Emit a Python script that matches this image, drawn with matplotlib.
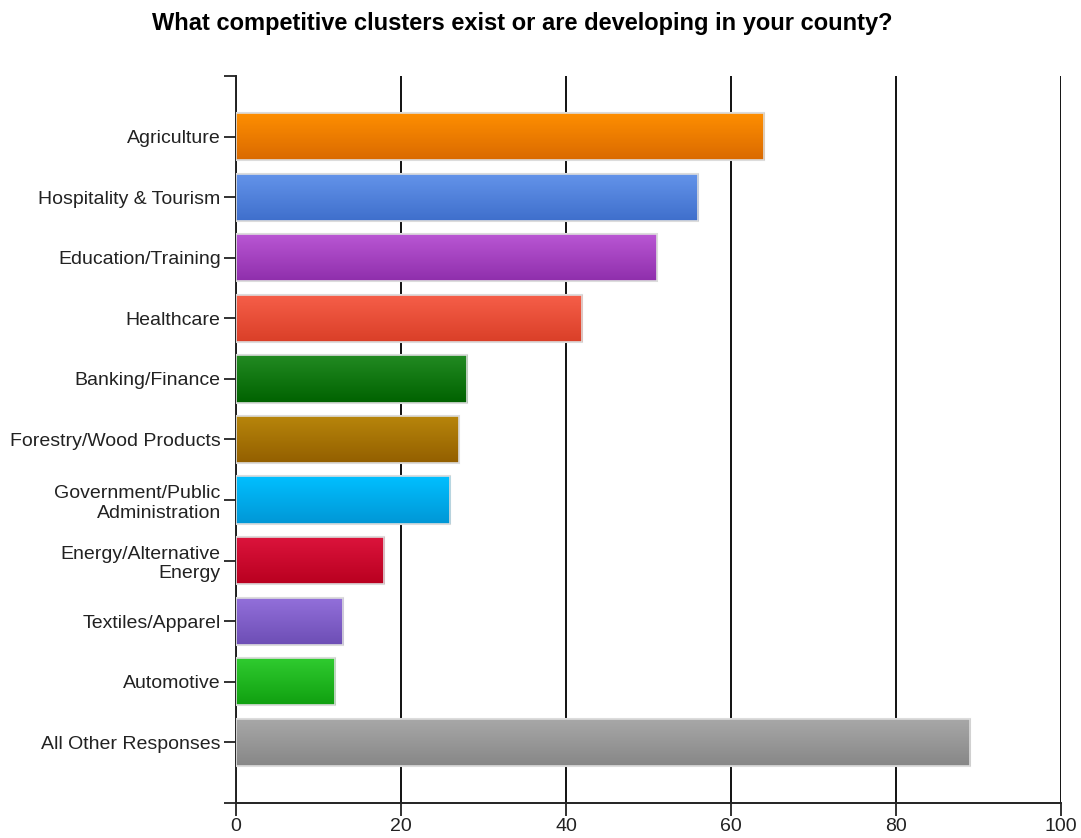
import numpy as np
import matplotlib
import matplotlib.pyplot as plt
from matplotlib.colors import LinearSegmentedColormap

matplotlib.use('Agg')

plt.rcParams['font.family'] = ['Liberation Sans', 'DejaVu Sans']

categories = ['Agriculture', 'Hospitality & Tourism', 'Education/Training',
              'Healthcare', 'Banking/Finance', 'Forestry/Wood Products',
              'Government/Public\nAdministration', 'Energy/Alternative\nEnergy',
              'Textiles/Apparel', 'Automotive', 'All Other Responses']
counts = [64, 56, 51, 42, 28, 27, 26, 18, 13, 12, 89]
top_colors = ['#ff8f00', '#6494ea', '#ba57d4', '#f65f49', '#228a22', '#b8860b',
              '#00bfff', '#dc143c', '#9370db', '#30cc30', '#a8a8a8']
bottom_colors = ['#da6a00', '#3f6fcc', '#8f2fac', '#da3f28', '#006200', '#935f00',
                 '#0097d6', '#b90020', '#6d4eb5', '#10a010', '#878787']
x_ticks = [0, 20, 40, 60, 80, 100]
title = 'What competitive clusters exist or are developing in your county?'

fig = plt.figure(figsize=(10.81, 8.38), dpi=100)
ax = fig.add_axes([0.2183, 0.0418, 0.7632, 0.8675])

pos = np.arange(len(categories))
bars = ax.barh(pos, counts, height=0.78, color=top_colors,
               edgecolor='#d9d9d9', linewidth=1.5, zorder=3)

# vertical gradient inside each bar, clipped to the bar shape
grad = np.linspace(0, 1, 64).reshape(-1, 1)
for bar, c_top, c_bot in zip(bars, top_colors, bottom_colors):
    x0, y0 = bar.get_x(), bar.get_y()
    w, h = bar.get_width(), bar.get_height()
    cmap = LinearSegmentedColormap.from_list('g', [c_top, c_bot])
    im = ax.imshow(grad, cmap=cmap, aspect='auto', interpolation='bilinear',
                   extent=(x0, x0 + w, y0 + h, y0), origin='upper', zorder=3.5)
    im.set_clip_path(bar)
    # light rim drawn again on top of the gradient
    ax.add_patch(plt.Rectangle((x0, y0), w, h, fill=False,
                               edgecolor='#dddddd', linewidth=1.2, zorder=4))

ax.set_xlim(0, 100)
ax.set_ylim(len(categories), -1)
ax.set_yticks(pos)
ax.set_yticklabels(categories, fontsize=14, color='#222222', linespacing=1.2)
ax.set_yticks([-1, len(categories)], minor=True)
ax.set_xticks(x_ticks)
ax.set_xticklabels([str(v) for v in x_ticks], fontsize=14, color='#222222')
ax.tick_params(axis='both', which='both', length=9, width=1.3, color='#222222')
ax.tick_params(axis='x', pad=2)
ax.tick_params(axis='y', pad=2)

ax.grid(axis='x', color='#111111', linewidth=1.4, zorder=1)
ax.grid(axis='y', visible=False)
ax.set_axisbelow(True)

for side in ['top', 'right']:
    ax.spines[side].set_visible(False)
for side in ['left', 'bottom']:
    ax.spines[side].set_color('#222222')
    ax.spines[side].set_linewidth(1.4)

fig.text(0.483, 0.972, title, ha='center', va='center',
         fontsize=17, fontweight='bold')

fig.savefig('out.png', dpi=100)
plt.close(fig)
